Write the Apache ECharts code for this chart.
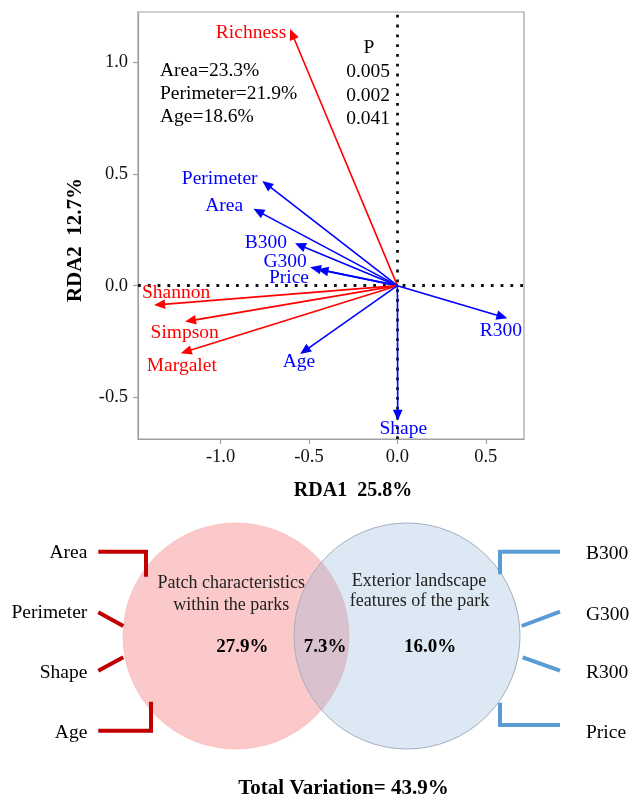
<!DOCTYPE html>
<html><head><meta charset="utf-8">
<script src="https://cdn.jsdelivr.net/npm/echarts@6/dist/echarts.min.js"></script>
<style>html,body{margin:0;padding:0;background:#fff}#c{width:630px;height:799px}</style>
</head><body><div id="c"></div>
<script>
// ---- RDA biplot data ----
const varNames = ['Richness','Perimeter','Area','B300','G300','Price','Shannon','Simpson','Margalet','Age','R300','Shape'];
const rda1 = [-0.607,-0.764,-0.814,-0.579,-0.494,-0.452,-1.376,-1.201,-1.225,-0.550,0.622,0.002];
const rda2 = [1.150,0.469,0.344,0.190,0.082,0.073,-0.087,-0.161,-0.303,-0.306,-0.146,-0.605];
const varGroup = ['resp','expl','expl','expl','expl','expl','resp','resp','resp','expl','expl','expl'];
const xTicks = [-1.0,-0.5,0.0,0.5];
const yTicks = [-0.5,0.0,0.5,1.0];
const xTitle = 'RDA1  25.8%';
const yTitle = 'RDA2  12.7%';
const sigVars = ['Area','Perimeter','Age'];
const sigExpl = ['23.3%','21.9%','18.6%'];
const sigP = ['0.005','0.002','0.041'];
// ---- Venn data ----
const vennGroups = ['Patch characteristics\nwithin the parks','Exterior landscape\nfeatures of the park'];
const vennParts = ['27.9%','7.3%','16.0%'];
const totalVar = '43.9%';
const leftVars = ['Area','Perimeter','Shape','Age'];
const rightVars = ['B300','G300','R300','Price'];

const FONT = "'Liberation Serif','Times New Roman',serif";
const colorOf = {resp:'#ff0000', expl:'#0000ff'};
const labelOffset = {Richness:[-39,4], Perimeter:[-42.6,-2], Area:[-29.3,-3.3], B300:[-29.2,-0.6], G300:[-25,-5], Price:[-28.5,9], Shannon:[22,-11.7], Simpson:[-0.3,11], Margalet:[1,12.7], Age:[-1.2,8.3], R300:[-6.5,12.7], Shape:[5.5,8.6]};

const chart = echarts.init(document.getElementById('c'));

const axisCommon = {
  type:'value', splitLine:{show:false},
  axisLine:{show:true, onZero:false, lineStyle:{color:'#a0a0a0', width:1.2}},
  axisTick:{show:true, length:5, lineStyle:{color:'#a0a0a0', width:1.2}},
  axisLabel:{color:'#111', fontFamily:FONT, fontSize:18.5, formatter:v=>v.toFixed(1)}
};

const arrowData = varNames.map((n,i)=>[rda1[i], rda2[i], i]);

function renderArrow(params, api){
  const i = api.value(2);
  const name = varNames[i];
  const col = colorOf[varGroup[i]];
  const o = api.coord([0,0]);
  const p = api.coord([api.value(0), api.value(1)]);
  const dx = p[0]-o[0], dy = p[1]-o[1];
  const len = Math.sqrt(dx*dx+dy*dy);
  const ux = dx/len, uy = dy/len;
  const L = 11, W = 4.8;
  const bx = p[0]-ux*L, by = p[1]-uy*L;
  const off = labelOffset[name];
  return {type:'group', children:[
    {type:'line', shape:{x1:o[0], y1:o[1], x2:bx+ux*2, y2:by+uy*2}, style:{stroke:col, lineWidth:1.6}},
    {type:'polygon', shape:{points:[[p[0],p[1]],[bx-uy*W, by+ux*W],[bx+uy*W, by-ux*W]]}, style:{fill:col}},
    {type:'text', x:p[0]+off[0], y:p[1]+off[1], style:{text:name, fill:col, font:'19.5px '+FONT, align:'center', verticalAlign:'middle'}}
  ]};
}

// graphic elements for annotations & venn
const g = [];
g.push({type:'text', x:353, y:491, style:{text:xTitle, font:'bold 20px '+FONT, fill:'#000', align:'center', verticalAlign:'middle'}});
g.push({type:'text', x:75.5, y:240, rotation:Math.PI/2, style:{text:yTitle, font:'bold 21px '+FONT, fill:'#000', align:'center', verticalAlign:'middle'}});
sigVars.forEach((v,i)=>{
  g.push({type:'text', x:160, y:70.7+i*23.3, style:{text:v+'='+sigExpl[i], font:'19.5px '+FONT, fill:'#000', align:'left', verticalAlign:'middle'}});
  g.push({type:'text', x:390, y:71.7+i*23.8, style:{text:sigP[i], font:'19.5px '+FONT, fill:'#000', align:'right', verticalAlign:'middle'}});
});
g.push({type:'text', x:369, y:48.3, style:{text:'P', font:'19.5px '+FONT, fill:'#000', align:'center', verticalAlign:'middle'}});

// venn circles
g.push({type:'circle', shape:{cx:236, cy:636, r:113}, style:{fill:'rgba(245,105,105,0.36)', stroke:'rgba(245,170,170,0.5)', lineWidth:1}, z:1});
g.push({type:'circle', shape:{cx:407, cy:636, r:113}, style:{fill:'rgba(140,180,220,0.3)', stroke:'#a8adbd', lineWidth:1}, z:2});
const gl = vennGroups[0].split('\n'), gr = vennGroups[1].split('\n');
g.push({type:'text', x:231.3, y:583.3, z:5, style:{text:gl[0], font:'18px '+FONT, fill:'#222', align:'center', verticalAlign:'middle'}});
g.push({type:'text', x:231.3, y:605, z:5, style:{text:gl[1], font:'18px '+FONT, fill:'#222', align:'center', verticalAlign:'middle'}});
g.push({type:'text', x:419, y:581, z:5, style:{text:gr[0], font:'18px '+FONT, fill:'#222', align:'center', verticalAlign:'middle'}});
g.push({type:'text', x:419.5, y:601.7, z:5, style:{text:gr[1], font:'18px '+FONT, fill:'#222', align:'center', verticalAlign:'middle'}});
[[242.3,vennParts[0]],[325,vennParts[1]],[430,vennParts[2]]].forEach(([x,t])=>{
  g.push({type:'text', x:x, y:646.7, z:5, style:{text:t, font:'bold 19px '+FONT, fill:'#000', align:'center', verticalAlign:'middle'}});
});
g.push({type:'text', x:343.5, y:788.3, z:5, style:{text:'Total Variation= '+totalVar, font:'bold 21px '+FONT, fill:'#000', align:'center', verticalAlign:'middle'}});

const leftY = [553.3, 613.3, 673.3, 733.3];
const rightY = [554.3, 615, 673.3, 733.3];
leftVars.forEach((v,i)=>g.push({type:'text', x:87.3, y:leftY[i], style:{text:v, font:'19.5px '+FONT, fill:'#000', align:'right', verticalAlign:'middle'}}));
rightVars.forEach((v,i)=>g.push({type:'text', x:586, y:rightY[i], style:{text:v, font:'19.5px '+FONT, fill:'#000', align:'left', verticalAlign:'middle'}}));

const RED = '#c00000', BLUE = '#5b9bd5';
function pl(points, col){ g.push({type:'polyline', z:3, shape:{points}, style:{stroke:col, lineWidth:4, fill:null, lineJoin:'miter'}}); }
pl([[98.3,551.7],[146,551.7],[146,576.7]], RED);
pl([[98.3,612.3],[123.3,626]], RED);
pl([[98.3,670.7],[123.3,657.3]], RED);
pl([[98.3,730.7],[151,730.7],[151,701.7]], RED);
pl([[560,551.7],[500,551.7],[500,574.3]], BLUE);
pl([[560,611.7],[521.7,626]], BLUE);
pl([[560,670.7],[522.7,657.3]], BLUE);
pl([[560,725],[500,725],[500,702.7]], BLUE);

chart.setOption({
  animation:false,
  backgroundColor:'#fff',
  grid:{left:138, top:12, width:386, height:427, show:true, borderColor:'#a0a0a0', borderWidth:1.2, containLabel:false},
  xAxis:Object.assign({}, axisCommon, {min:-1.467, max:0.716,
    axisTick:Object.assign({}, axisCommon.axisTick, {customValues:xTicks}),
    axisLabel:Object.assign({}, axisCommon.axisLabel, {customValues:xTicks, margin:9})}),
  yAxis:Object.assign({}, axisCommon, {min:-0.687, max:1.226,
    axisTick:Object.assign({}, axisCommon.axisTick, {customValues:yTicks}),
    axisLabel:Object.assign({}, axisCommon.axisLabel, {customValues:yTicks, margin:10})}),
  series:[
    {type:'scatter', data:[], silent:true,
     markLine:{silent:true, symbol:'none', label:{show:false},
       lineStyle:{color:'#111', type:[2.8,7], width:2.8, cap:'butt'},
       data:[{xAxis:0},{yAxis:0}]}},
    {type:'custom', renderItem:renderArrow, data:arrowData, clip:false, z:5, silent:true}
  ],
  graphic:g
});
</script></body></html>
